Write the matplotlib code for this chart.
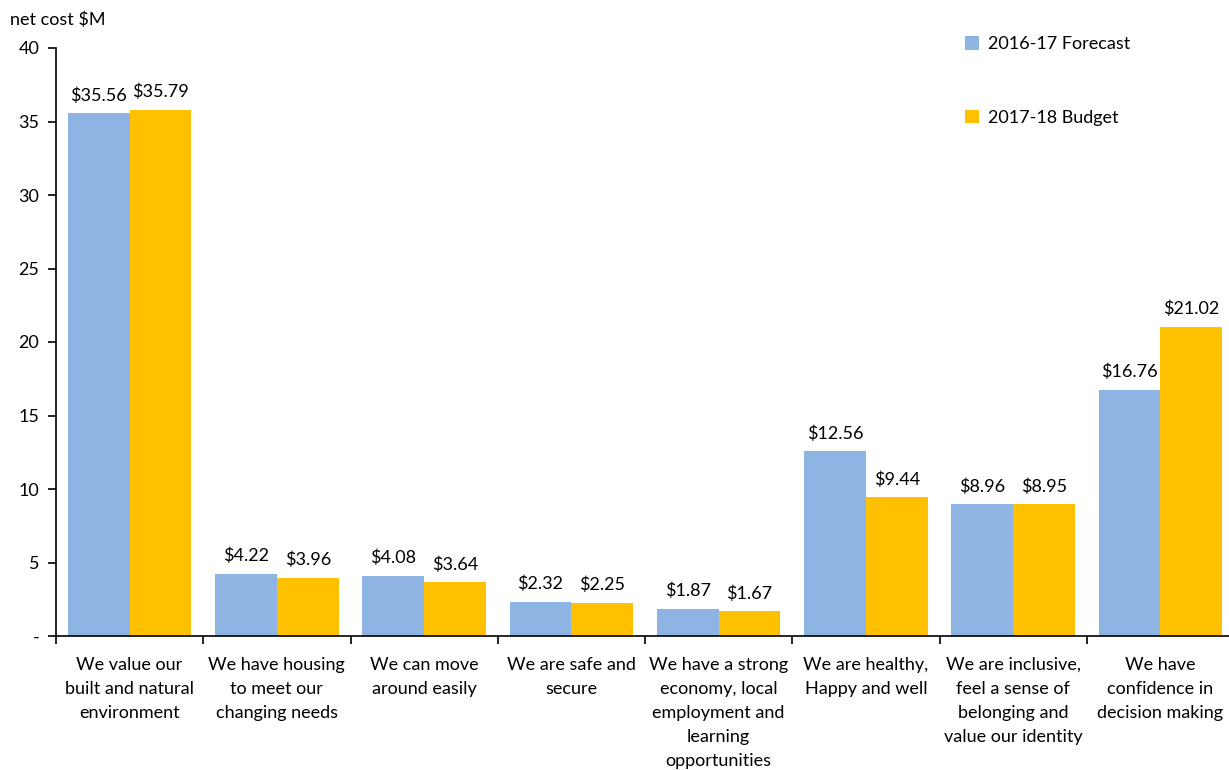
import numpy as np
import matplotlib.pyplot as plt

categories = [
    "We value our\nbuilt and natural\nenvironment",
    "We have housing\nto meet our\nchanging needs",
    "We can move\naround easily",
    "We are safe and\nsecure",
    "We have a strong\neconomy, local\nemployment and\nlearning\nopportunities",
    "We are healthy,\nHappy and well",
    "We are inclusive,\nfeel a sense of\nbelonging and\nvalue our identity",
    "We have\nconfidence in\ndecision making",
]
forecast = [35.56, 4.22, 4.08, 2.32, 1.87, 12.56, 8.96, 16.76]
budget = [35.79, 3.96, 3.64, 2.25, 1.67, 9.44, 8.95, 21.02]
yticks = [0, 5, 10, 15, 20, 25, 30, 35, 40]
ytick_labels = ["-", "5", "10", "15", "20", "25", "30", "35", "40"]

plt.rcParams['font.family'] = ['Lato', 'DejaVu Sans']
plt.rcParams['font.size'] = 13

W, H = 1229, 770
fig = plt.figure(figsize=(W / 100, H / 100), dpi=100)
ax = fig.add_axes([56 / W, (H - 636) / H, 1178 / W, 588 / H])

x = np.arange(len(categories))
bw = 0.42
b1 = ax.bar(x - bw / 2, forecast, bw, color='#8EB4E3', label='2016-17 Forecast')
b2 = ax.bar(x + bw / 2, budget, bw, color='#FFC000', label='2017-18 Budget')

for bars, vals in ((b1, forecast), (b2, budget)):
    for r, v in zip(bars, vals):
        ax.annotate('$%.2f' % v, (r.get_x() + r.get_width() / 2, v),
                    xytext=(0, 7), textcoords='offset points',
                    ha='center', va='bottom', fontsize=13)

ax.set_xlim(-0.5, len(categories) - 0.5)
ax.set_ylim(0, 40)
ax.set_yticks(yticks)
ax.set_yticklabels(ytick_labels)
ax.set_xticks(x)
ax.set_xticklabels(categories, linespacing=1.62)
ax.set_xticks(np.arange(len(categories)) - 0.5, minor=True)
ax.tick_params(axis='x', which='major', length=0, pad=15)
ax.tick_params(axis='x', which='minor', length=6, width=1.2, direction='out')
ax.tick_params(axis='y', length=6, width=1.2, direction='out', pad=6)

ax.spines['top'].set_visible(False)
ax.spines['right'].set_visible(False)
ax.spines['left'].set_linewidth(1.2)
ax.spines['bottom'].set_linewidth(1.2)

fig.text(10 / W, 1 - 20 / H, 'net cost $M', ha='left', va='center', fontsize=13)

ax.legend(loc='upper left', bbox_to_anchor=(949 / W, 1 - 20 / H),
          bbox_transform=fig.transFigure, frameon=False,
          handlelength=0.75, handleheight=0.75, handletextpad=0.5,
          labelspacing=3.2, fontsize=13)

fig.savefig('out.png', dpi=100)
